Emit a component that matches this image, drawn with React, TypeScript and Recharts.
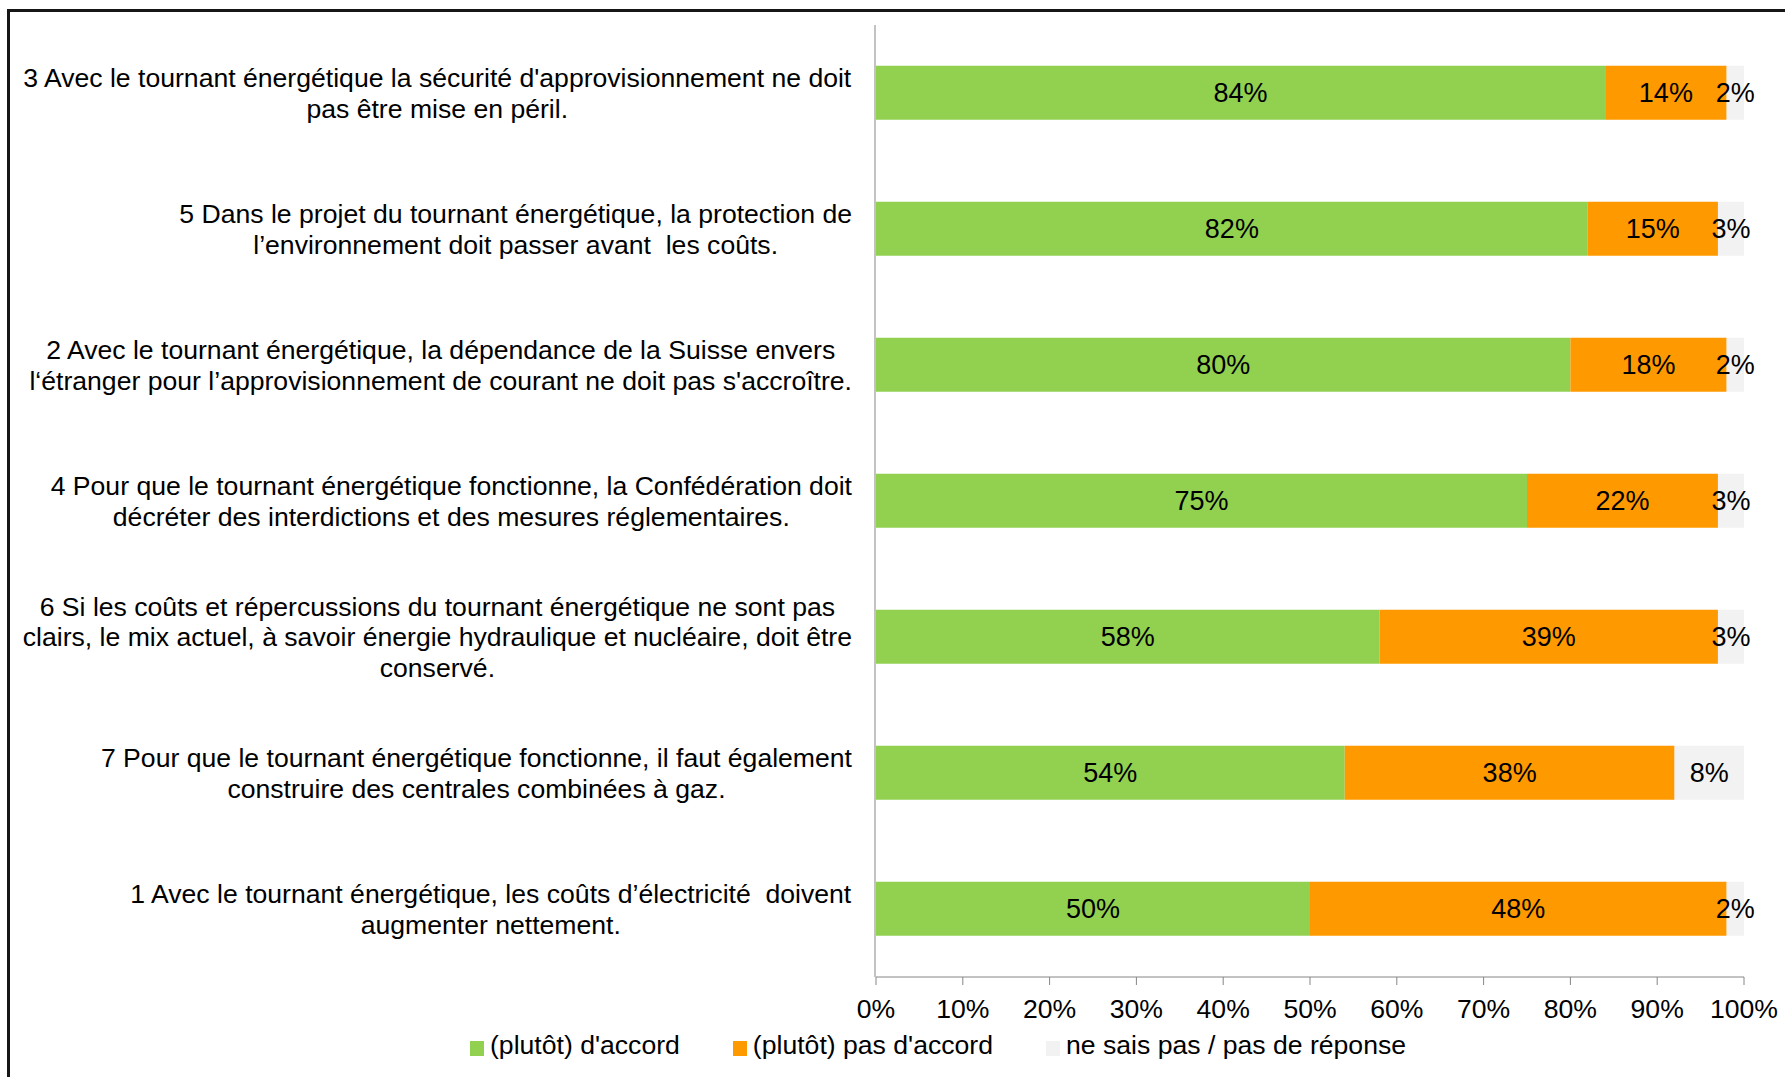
import React from "react";
import { BarChart, Bar, XAxis, YAxis, LabelList } from "recharts";

const categories: string[][] = [
  ["3 Avec le tournant énergétique la sécurité d'approvisionnement ne doit", "pas être mise en péril."],
  ["5 Dans le projet du tournant énergétique, la protection de", "l’environnement doit passer avant  les coûts."],
  ["2 Avec le tournant énergétique, la dépendance de la Suisse envers", "l‘étranger pour l’approvisionnement de courant ne doit pas s'accroître."],
  ["4 Pour que le tournant énergétique fonctionne, la Confédération doit", "décréter des interdictions et des mesures réglementaires."],
  ["6 Si les coûts et répercussions du tournant énergétique ne sont pas", "clairs, le mix actuel, à savoir énergie hydraulique et nucléaire, doit être", "conservé."],
  ["7 Pour que le tournant énergétique fonctionne, il faut également", "construire des centrales combinées à gaz."],
  ["1 Avec le tournant énergétique, les coûts d’électricité  doivent", "augmenter nettement."],
];

const agree = [84, 82, 80, 75, 58, 54, 50];
const disagree = [14, 15, 18, 22, 39, 38, 48];
const dontKnow = [2, 3, 2, 3, 3, 8, 2];

const xTicks = [0, 10, 20, 30, 40, 50, 60, 70, 80, 90, 100];
const bandTicks = [0, 1, 2, 3, 4, 5, 6, 7];

const seriesNames = ["(plutôt) d'accord", "(plutôt) pas d'accord", "ne sais pas / pas de réponse"];
const seriesColors = ["#92D050", "#FF9900", "#F2F2F2"];

const FONT = "'Liberation Sans', Arial, sans-serif";
const FS = 26.6;
const AXIS_COLOR = "#868686";

const chartData = categories.map((lines, i) => ({
  key: String(i),
  lines,
  agree: agree[i],
  disagree: disagree[i],
  dontKnow: dontKnow[i],
}));

let measureCtx: CanvasRenderingContext2D | null = null;
function textWidth(s: string) {
  if (!measureCtx) {
    measureCtx = document.createElement("canvas").getContext("2d");
  }
  if (!measureCtx) return s.length * 12;
  measureCtx.font = `${FS}px ${FONT}`;
  return measureCtx.measureText(s).width;
}

const CategoryTick = (props: any) => {
  const { x, y, payload } = props;
  const lines = categories[Number(payload.value)] || [];
  const widest = Math.max(...lines.map((l) => textWidth(l)));
  const cx = x - widest / 2;
  const lh = 30.7;
  return (
    <g>
      {lines.map((l, i) => (
        <text
          key={i}
          x={cx}
          y={y + (i - (lines.length - 1) / 2) * lh}
          dy="0.35em"
          textAnchor="middle"
          fontSize={FS}
          fontFamily={FONT}
          fill="#000"
          style={{ whiteSpace: "pre" }}
        >
          {l}
        </text>
      ))}
    </g>
  );
};

export default function App() {
  return (
    <div
      style={{
        position: "fixed",
        left: 0,
        top: 0,
        width: 1785,
        height: 1077,
        background: "#fff",
        overflow: "hidden",
      }}
    >
      <div
        style={{
          position: "absolute",
          left: 7,
          top: 9,
          width: 1820,
          height: 1120,
          borderLeft: "3px solid #161616",
          borderTop: "3px solid #161616",
          pointerEvents: "none",
        }}
      />
      <div style={{ position: "absolute", left: 0, top: 0 }}>
        <BarChart
          width={1785}
          height={1077}
          data={chartData}
          layout="vertical"
          margin={{ top: 25, right: 41, bottom: 40, left: 874 }}
          barCategoryGap="30%"
        >
          <XAxis
            type="number"
            domain={[0, 100]}
            ticks={xTicks}
            tickFormatter={(v) => `${v}%`}
            height={60}
            tickSize={8}
            tickMargin={14}
            axisLine={{ stroke: AXIS_COLOR }}
            tickLine={{ stroke: AXIS_COLOR }}
            tick={{ fontSize: FS, fontFamily: FONT, fill: "#000" }}
            interval={0}
          />
          <YAxis
            yAxisId="grid"
            type="number"
            domain={[0, 7]}
            ticks={bandTicks}
            width={1}
            tick={false}
            tickSize={8}
            axisLine={{ stroke: AXIS_COLOR }}
            tickLine={{ stroke: AXIS_COLOR }}
            allowDataOverflow
          />
          <YAxis
            yAxisId="cat"
            type="category"
            dataKey="key"
            width={1}
            axisLine={false}
            tickLine={false}
            tickSize={0}
            tickMargin={24}
            interval={0}
            tick={<CategoryTick />}
          />
          <Bar yAxisId="cat" dataKey="agree" stackId="a" fill={seriesColors[0]} isAnimationActive={false}>
            <LabelList dataKey="agree" position="center" formatter={(v: any) => `${v}%`} fill="#000" fontSize={27} fontFamily={FONT} />
          </Bar>
          <Bar yAxisId="cat" dataKey="disagree" stackId="a" fill={seriesColors[1]} isAnimationActive={false}>
            <LabelList dataKey="disagree" position="center" formatter={(v: any) => `${v}%`} fill="#000" fontSize={27} fontFamily={FONT} />
          </Bar>
          <Bar yAxisId="cat" dataKey="dontKnow" stackId="a" fill={seriesColors[2]} isAnimationActive={false}>
            <LabelList dataKey="dontKnow" position="center" formatter={(v: any) => `${v}%`} fill="#000" fontSize={27} fontFamily={FONT} />
          </Bar>
        </BarChart>
      </div>
      <div
        style={{
          position: "absolute",
          left: 470,
          top: 1030,
          display: "flex",
          alignItems: "center",
          fontFamily: FONT,
          fontSize: FS,
          lineHeight: "30px",
          color: "#000",
          whiteSpace: "nowrap",
        }}
      >
        {seriesNames.map((name, i) => (
          <div key={name} style={{ display: "flex", alignItems: "center", marginRight: i < 2 ? 53 : 0 }}>
            <span
              style={{
                display: "inline-block",
                width: 14,
                height: 15,
                background: seriesColors[i],
                marginRight: 6,
                position: "relative",
                top: 3,
              }}
            />
            <span>{name}</span>
          </div>
        ))}
      </div>
    </div>
  );
}
